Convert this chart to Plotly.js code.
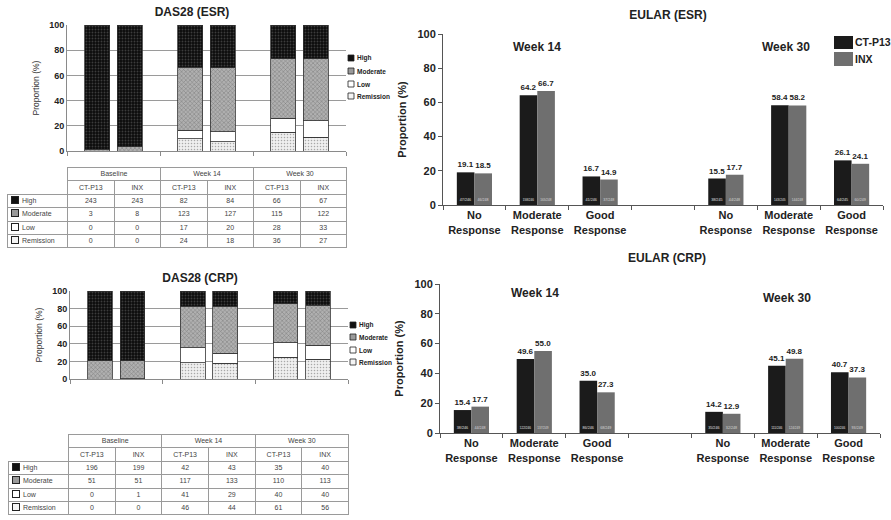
<!DOCTYPE html>
<html><head><meta charset="utf-8">
<script src="https://cdn.plot.ly/plotly-3.0.1.min.js"></script>
<style>
body{margin:0;background:#fff;width:891px;height:520px;overflow:hidden;position:relative;font-family:Arial,"Liberation Sans",sans-serif;}
.chart{position:absolute;overflow:hidden;}
table.t{position:absolute;border-collapse:collapse;font-size:7px;color:#444;table-layout:fixed;font-family:Arial,"Liberation Sans",sans-serif;}
table.t tr{height:13.4px;}
table.t td{border:1px solid #9a9a9a;text-align:center;padding:0;line-height:10px;white-space:nowrap;overflow:hidden;}
table.t td.lab{text-align:left;padding-left:3px;}
table.t td.blank{border:none;}
.sw{display:inline-block;width:6px;height:6px;border:1px solid #222;margin-right:3px;vertical-align:-1px;}
</style></head>
<body>
<div id="c1" class="chart" style="left:0;top:0;width:398px;height:158px"></div>
<div id="c3" class="chart" style="left:0;top:262px;width:398px;height:124px"></div>
<div id="c2" class="chart" style="left:390px;top:0;width:501px;height:250px"></div>
<div id="c4" class="chart" style="left:390px;top:250px;width:501px;height:270px"></div>
<table id="t1" class="t" style="left:7px;top:167px;width:340px"></table>
<table id="t2" class="t" style="left:8px;top:434px;width:341px"></table>
<script>
// ---------- DATA ----------
const timepoints = ['Baseline','Week 14','Week 30'];
const arms = ['CT-P13','INX'];
const levels = ['High','Moderate','Low','Remission'];
// DAS28 (ESR) counts
const esrHighCT=[243,82,66],  esrHighINX=[243,84,67];
const esrModCT=[3,123,115],   esrModINX=[8,127,122];
const esrLowCT=[0,17,28],     esrLowINX=[0,20,33];
const esrRemCT=[0,24,36],     esrRemINX=[0,18,27];
// DAS28 (CRP) counts
const crpHighCT=[196,42,35],  crpHighINX=[199,43,40];
const crpModCT=[51,117,110],  crpModINX=[51,133,113];
const crpLowCT=[0,41,40],     crpLowINX=[1,29,40];
const crpRemCT=[0,46,61],     crpRemINX=[0,44,56];
// EULAR responses (%)
const responses=['No Response','Moderate Response','Good Response'];
const responseLabels=['No<br>Response','Moderate<br>Response','Good<br>Response'];
const esrW14CT=[19.1,64.2,16.7], esrW14INX=[18.5,66.7,14.9];
const esrW30CT=[15.5,58.4,26.1], esrW30INX=[17.7,58.2,24.1];
const crpW14CT=[15.4,49.6,35.0], crpW14INX=[17.7,55.0,27.3];
const crpW30CT=[14.2,45.1,40.7], crpW30INX=[12.9,49.8,37.3];
// n/N labels inside bars
const esrW14CTn=['47/246','158/246','41/246'], esrW14INXn=['46/248','165/248','37/248'];
const esrW30CTn=['38/245','143/245','64/245'], esrW30INXn=['44/248','144/248','60/249'];
const crpW14CTn=['38/246','122/246','86/246'], crpW14INXn=['44/248','137/249','68/249'];
const crpW30CTn=['35/246','111/246','100/246'], crpW30INXn=['32/248','124/249','93/249'];

// ---------- STYLE ----------
const FONT='Arial, "Liberation Sans", sans-serif';
const STY={
  Remission:{bg:'#ececec',pattern:{shape:'.',fgcolor:'#a8a8a8',bgcolor:'#efefef',size:3,solidity:0.2},sw:'#f4f4f4'},
  Low:{bg:'#ffffff',pattern:{shape:''},sw:'#ffffff'},
  Moderate:{bg:'#a8a8a8',pattern:{shape:'x',fgcolor:'#7a7a7a',bgcolor:'#b0b0b0',size:3,solidity:0.3},sw:'#9a9a9a'},
  High:{bg:'#0e0e0e',pattern:{shape:'.',fgcolor:'#3c3c3c',bgcolor:'#0c0c0c',size:3,solidity:0.3},sw:'#111111'}
};
const cfg={staticPlot:true,displayModeBar:false};

function stackedTraces(rem,low,mod,high,arm){
  const parts=[rem,low,mod,high];
  const total=timepoints.map((_,i)=>parts.reduce((s,p)=>s+p[i],0));
  const defs=[['Remission',rem],['Low',low],['Moderate',mod],['High',high]];
  return defs.map(([lev,arr])=>({
    type:'bar',name:lev+' '+arm,x:timepoints,y:arr.map((v,i)=>100*v/total[i]),
    offsetgroup:arm,
    marker:{color:STY[lev].bg,pattern:STY[lev].pattern,line:{color:'#333',width:0.8}},
    hoverinfo:'skip',showlegend:false
  }));
}

function dasLayout(title,W,H,m,plotR,titleX,titleY,legY){
  const pw=plotR-m.l, ph=H-m.t-m.b;
  const mm={l:m.l,r:W-plotR,t:m.t,b:m.b};
  const px=x=>(x-m.l)/pw, py=y=>(H-m.b-y)/ph;
  const shapes=[],annotations=[];
  levels.forEach((lev,i)=>{
    const yc=legY[i];
    shapes.push({type:'rect',xref:'paper',yref:'paper',x0:px(plotR+2),x1:px(plotR+8),y0:py(yc+3),y1:py(yc-3),
      fillcolor:STY[lev].sw,line:{color:'#222',width:0.8}});
    annotations.push({xref:'paper',yref:'paper',x:px(plotR+8.5),y:py(yc),xanchor:'left',yanchor:'middle',showarrow:false,
      text:lev,font:{size:6.5,color:'#222',weight:'bold'}});
  });
  return {
    width:W,height:H,margin:mm,barmode:'stack',bargap:0.30,bargroupgap:0.24,showlegend:false,
    paper_bgcolor:'rgba(0,0,0,0)',plot_bgcolor:'#fff',font:{family:FONT,color:'#222'},
    title:{text:title,font:{size:12,weight:'bold',color:'#222'},xref:'container',yref:'container',x:titleX/W,y:1-titleY/H,xanchor:'center',yanchor:'middle'},
    xaxis:{type:'category',range:[-0.5,2.5],tickson:'boundaries',ticks:'outside',ticklen:4,tickcolor:'#8a8a8a',
      showticklabels:false,showline:true,linecolor:'#8a8a8a',showgrid:false,zeroline:false},
    yaxis:{range:[0,100],dtick:20,showgrid:true,gridcolor:'#9a9a9a',gridwidth:1,showline:true,linecolor:'#8a8a8a',
      ticks:'',zeroline:false,tickfont:{size:9,weight:'bold',color:'#222'},
      title:{text:'Proportion (%)',font:{size:8.5,color:'#333'},standoff:8}},
    shapes,annotations
  };
}

function buildTable(id,high,mod,low,rem){
  const rows=[[levels[0],high],[levels[1],mod],[levels[2],low],[levels[3],rem]];
  let h='<colgroup><col style="width:60px">'+'<col>'.repeat(6)+'</colgroup>';
  h+='<tr><td class="blank"></td>'+timepoints.map(t=>'<td colspan="2">'+t+'</td>').join('')+'</tr>';
  h+='<tr><td class="blank"></td>'+timepoints.map(()=>arms.map(a=>'<td>'+a+'</td>').join('')).join('')+'</tr>';
  rows.forEach(([lev,pair])=>{
    h+='<tr><td class="lab"><span class="sw" style="background:'+STY[lev].sw+'"></span>'+lev+'</td>';
    timepoints.forEach((_,i)=>{ h+='<td>'+pair[0][i]+'</td><td>'+pair[1][i]+'</td>'; });
    h+='</tr>';
  });
  document.getElementById(id).innerHTML=h;
}

// ---------- DAS28 charts ----------
Plotly.newPlot('c1',
  [...stackedTraces(esrRemCT,esrLowCT,esrModCT,esrHighCT,'CT-P13'),...stackedTraces(esrRemINX,esrLowINX,esrModINX,esrHighINX,'INX')],
  dasLayout('DAS28 (ESR)',398,158,{l:67,t:25,b:7},346,192,12,[58,71,84,96]),cfg);
Plotly.newPlot('c3',
  [...stackedTraces(crpRemCT,crpLowCT,crpModCT,crpHighCT,'CT-P13'),...stackedTraces(crpRemINX,crpLowINX,crpModINX,crpHighINX,'INX')],
  dasLayout('DAS28 (CRP)',398,124,{l:70,t:29,b:7},348,200,16,[63,75,88,100]),cfg);
buildTable('t1',[esrHighCT,esrHighINX],[esrModCT,esrModINX],[esrLowCT,esrLowINX],[esrRemCT,esrRemINX]);
buildTable('t2',[crpHighCT,crpHighINX],[crpModCT,crpModINX],[crpLowCT,crpLowINX],[crpRemCT,crpRemINX]);

// ---------- EULAR charts ----------
function eularTraces(w14CT,w14INX,w30CT,w30INX,n14CT,n14INX,n30CT,n30INX){
  const x=[...responses.map(r=>'Week 14 '+r),'gap',...responses.map(r=>'Week 30 '+r)];
  const mk=(a,b)=>[...a,null,...b];
  const defs=[['CT-P13','#1b1b1b',mk(w14CT,w30CT),mk(n14CT,n30CT),'#e0e0e0'],
              ['INX','#6f6f6f',mk(w14INX,w30INX),mk(n14INX,n30INX),'#d8d8d8']];
  const tr=[];
  defs.forEach(([name,col,y,n,tc])=>{
    tr.push({type:'bar',name,x,y,offsetgroup:name,marker:{color:col},text:n,textposition:'inside',insidetextanchor:'start',
      textangle:0,textfont:{size:4.5,color:tc,family:FONT},constraintext:'inside',hoverinfo:'skip'});
    tr.push({type:'bar',name:name+' %',x,y,offsetgroup:name,marker:{color:'rgba(0,0,0,0)'},texttemplate:'%{y:.1f}',
      textposition:'outside',textfont:{size:8,color:'#222',family:FONT,weight:'bold'},constraintext:'none',cliponaxis:false,hoverinfo:'skip'});
  });
  return {x,tr};
}
function eularLayout(title,x,W,H,m,titleX,titleY,weekPos,legend){
  const pw=W-m.l-m.r, ph=H-m.t-m.b;
  const px=v=>(v-m.l)/pw, py=v=>(H-m.b-v)/ph;
  const annotations=weekPos.map(([wk,xx,yy])=>({xref:'paper',yref:'paper',x:px(xx),y:py(yy),xanchor:'center',yanchor:'middle',
    showarrow:false,text:wk,font:{size:12,weight:'bold',color:'#222'}}));
  const shapes=[];
  if(legend){
    [['CT-P13','#1b1b1b',36,49],['INX','#6f6f6f',52,66]].forEach(([nm,col,y0,y1])=>{
      shapes.push({type:'rect',xref:'paper',yref:'paper',x0:px(444),x1:px(463),y0:py(y1),y1:py(y0),fillcolor:col,line:{width:0}});
      annotations.push({xref:'paper',yref:'paper',x:px(463),y:py((y0+y1)/2),xanchor:'left',yanchor:'middle',showarrow:false,
        text:nm,font:{size:10.5,weight:'bold',color:'#222'}});
    });
  }
  return {
    width:W,height:H,margin:m,barmode:'group',bargap:0.44,bargroupgap:0,showlegend:false,
    paper_bgcolor:'rgba(0,0,0,0)',plot_bgcolor:'#fff',font:{family:FONT,color:'#222'},
    title:{text:title,font:{size:12,weight:'bold',color:'#222'},xref:'container',yref:'container',x:titleX/W,y:1-titleY/H,xanchor:'center',yanchor:'middle'},
    xaxis:{type:'category',categoryorder:'array',categoryarray:x,tickmode:'array',tickvals:x,
      ticktext:[...responseLabels,'',...responseLabels],tickson:'boundaries',ticks:'outside',ticklen:4,tickcolor:'#555',
      range:[-0.5,6.5],showline:true,linecolor:'#555',showgrid:false,zeroline:false,tickfont:{size:11,weight:'bold',color:'#222'}},
    yaxis:{range:[0,100],dtick:20,ticks:'outside',ticklen:4,tickcolor:'#555',showline:true,linecolor:'#555',showgrid:false,zeroline:false,
      tickfont:{size:11,weight:'bold',color:'#222'},title:{text:'Proportion (%)',font:{size:11,weight:'bold',color:'#222'},standoff:8}},
    annotations,shapes
  };
}
const e1=eularTraces(esrW14CT,esrW14INX,esrW30CT,esrW30INX,esrW14CTn,esrW14INXn,esrW30CTn,esrW30INXn);
Plotly.newPlot('c2',e1.tr,eularLayout('EULAR (ESR)',e1.x,501,250,{l:53,r:8,t:34,b:45},278,15,
  [['Week 14',147,47],['Week 30',396,47]],true),cfg);
const e2=eularTraces(crpW14CT,crpW14INX,crpW30CT,crpW30INX,crpW14CTn,crpW14INXn,crpW30CTn,crpW30INXn);
Plotly.newPlot('c4',e2.tr,eularLayout('EULAR (CRP)',e2.x,501,270,{l:50,r:11,t:34,b:87},277,8,
  [['Week 14',145,43],['Week 30',397,48]],false),cfg);
</script>
</body></html>
